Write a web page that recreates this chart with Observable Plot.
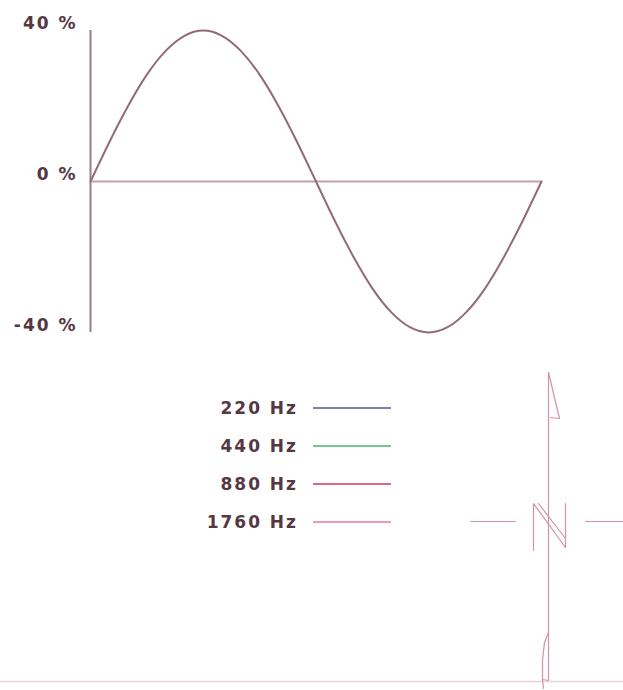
<!DOCTYPE html>
<html>
<head>
<meta charset="utf-8">
<script src="https://cdn.jsdelivr.net/npm/d3@7"></script>
<script src="https://cdn.jsdelivr.net/npm/@observablehq/plot@0.6"></script>
<style>
  html, body { margin: 0; padding: 0; background: #fff; }
  #wrap { position: relative; width: 623px; height: 690px; overflow: hidden; font-family: "DejaVu Sans", sans-serif; }
  #topChart, #bottomChart { position: absolute; left: 0; }
  #topChart { top: 0; }
  #bottomChart { top: 345px; }
  #legend { position: absolute; left: 0; top: 389px; }
  .row { position: relative; height: 38px; width: 400px; }
  .lab { position: absolute; right: 102px; top: 0; line-height: 38px; font-weight: bold; font-size: 17px; letter-spacing: 2px; color: #553844; white-space: nowrap; }
  .sw { position: absolute; left: 313px; top: 18px; width: 78px; height: 2px; }
</style>
</head>
<body>
<div id="wrap">
  <div id="topChart"></div>
  <div id="bottomChart"></div>
  <div id="legend"></div>
</div>
<script>
// ---- data ----
const phaseDeg = [0,15,30,45,60,75,90,105,120,135,150,165,180,195,210,225,240,255,270,285,300,315,330,345,360];
const amplitudePct = [0,10.4,20,28.3,34.6,38.6,40,38.6,34.6,28.3,20,10.4,0,-10.4,-20,-28.3,-34.6,-38.6,-40,-38.6,-34.6,-28.3,-20,-10.4,0];
const yTicks = [-40, 0, 40];

const seriesNames = ["220 Hz", "440 Hz", "880 Hz", "1760 Hz"];
const seriesColors = ["#7d82a8", "#74c892", "#d66a7e", "#ea9cba"];

// stray glyph drawn in the lower right (page x, page y)
const glyphId = ["flag","flag","flag","stem","stem","loop","loop","loop","loop","loop","tip","tip","n","n","n","n","n2","n2","dashL","dashL","dashR","dashR"];
const glyphX  = [550,559,548, 548,548, 548,544,542,542,548, 542,543, 533,533,565,565, 538,565, 470,515, 585,623];
const glyphY  = [417,418,372, 372,680, 632,642,660,679,680, 679,688, 550,503,547,503, 503,538, 521,521, 521,521];
const baseX = [0, 623];
const baseY = [681, 681];

// ---- top chart ----
const wave = phaseDeg.map((p, i) => ({phase: p, value: amplitudePct[i]}));
const topPlot = Plot.plot({
  width: 623,
  height: 345,
  marginTop: 30,
  marginBottom: 13,
  marginLeft: 90,
  marginRight: 82,
  x: {domain: [0, 360], axis: null},
  y: {domain: [-40, 40], ticks: yTicks, label: null},
  style: {background: "transparent", overflow: "visible"},
  marks: [
    Plot.axisY(yTicks, {tickSize: 0, tickPadding: 13, dy: -7, label: null, tickFormat: d => `${d} %`,
      fontSize: 17, fontWeight: "bold", fill: "#553844", fontFamily: "DejaVu Sans"}),
    Plot.ruleX([0], {y1: -40, y2: 40, stroke: "#a07a88", strokeWidth: 2}),
    Plot.ruleY([0], {x1: 0, x2: 360, stroke: "#c6a2b0", strokeWidth: 2}),
    Plot.line(wave, {x: "phase", y: "value", stroke: "#946a7a", strokeWidth: 2, curve: "natural"})
  ]
});
document.getElementById("topChart").appendChild(topPlot);
topPlot.querySelectorAll("text").forEach(t => t.setAttribute("letter-spacing", "2"));

// ---- legend ----
const legend = document.getElementById("legend");
seriesNames.forEach((name, i) => {
  const row = document.createElement("div");
  row.className = "row";
  const lab = document.createElement("div");
  lab.className = "lab";
  lab.textContent = name;
  const sw = document.createElement("div");
  sw.className = "sw";
  sw.style.background = seriesColors[i];
  row.appendChild(lab);
  row.appendChild(sw);
  legend.appendChild(row);
});

// ---- lower glyph ----
const glyph = glyphId.map((id, i) => ({id, x: glyphX[i], y: glyphY[i]}));
const base = baseX.map((x, i) => ({x, y: baseY[i]}));
const bottomPlot = Plot.plot({
  width: 623,
  height: 345,
  margin: 0,
  x: {domain: [0, 623], axis: null},
  y: {domain: [345, 690], reverse: true, axis: null},
  style: {background: "transparent", overflow: "visible"},
  marks: [
    Plot.line(base, {x: "x", y: "y", stroke: "#ecd4da", strokeWidth: 1.5}),
    Plot.line(glyph, {x: "x", y: "y", z: "id", stroke: "#d492aa", strokeWidth: 1.2})
  ]
});
document.getElementById("bottomChart").appendChild(bottomPlot);
</script>
</body>
</html>
